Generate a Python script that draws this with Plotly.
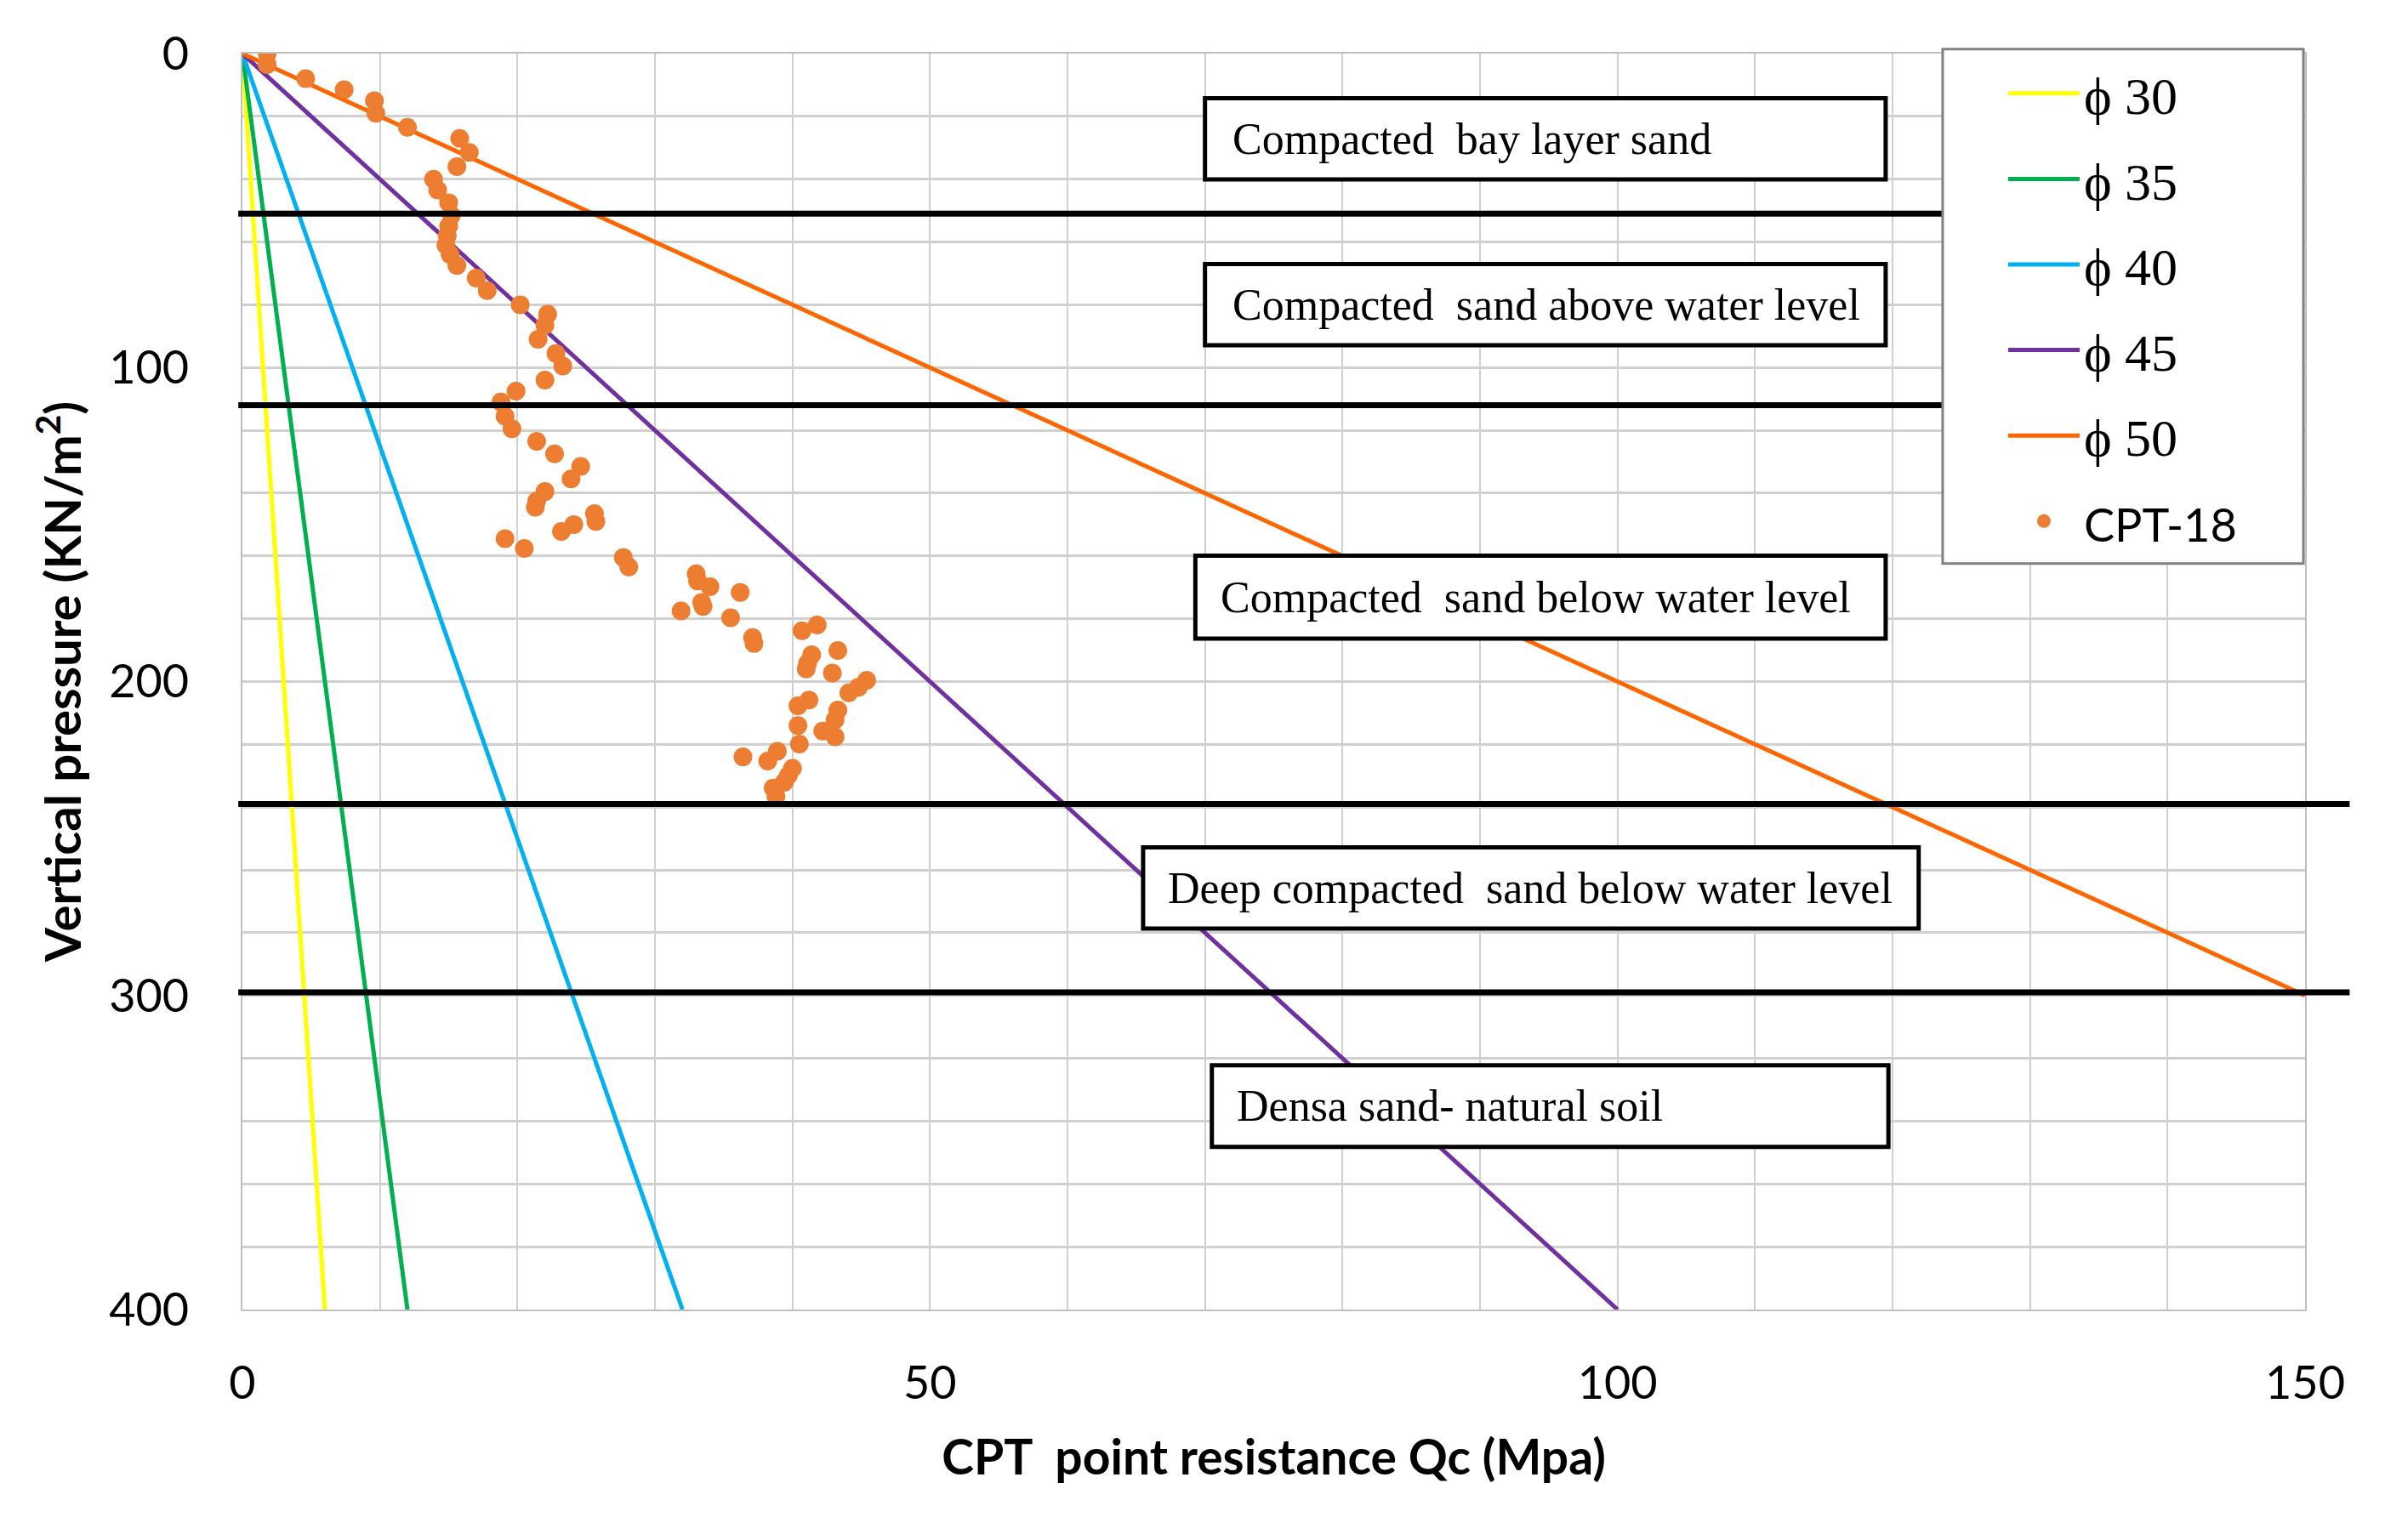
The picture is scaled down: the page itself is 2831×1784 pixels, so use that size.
import plotly.graph_objects as go

# ---- data ----
phi_names = ["ϕ 30", "ϕ 35", "ϕ 40", "ϕ 45", "ϕ 50"]
phi_colors = ["#FFFF00", "#00B050", "#00B0F0", "#7030A0", "#FF6600"]
phi_x = [[0, 6], [0, 12], [0, 32], [0, 100], [0, 150]]
phi_y = [[0, 400], [0, 400], [0, 400], [0, 400], [0, 300]]

cpt_x = [1.8, 1.8, 4.6, 7.4, 9.6, 9.7, 12.0, 15.8, 16.5, 15.6, 13.9, 14.2, 15.0, 15.2, 15.0,
         14.9, 14.8, 15.1, 15.6, 17.0, 17.8, 20.2, 22.2, 22.0, 21.5, 22.8, 23.3, 22.0, 19.9,
         18.8, 19.1, 19.6, 21.4, 22.7, 24.6, 23.9, 22.0, 21.4, 21.3, 25.6, 25.7, 24.1, 23.2,
         19.1, 20.5, 27.7, 28.1, 33.0, 33.1, 34.0, 36.2, 33.4, 33.5, 31.9, 35.5, 37.1, 37.2,
         40.7, 41.8, 41.4, 41.1, 41.0, 43.3, 42.9, 45.4, 44.8, 44.1, 43.3, 43.1, 42.2, 43.1,
         41.2, 40.4, 40.4, 40.5, 38.9, 38.2, 36.4, 40.0, 39.7, 39.4, 38.6, 38.8]
cpt_y = [0.0, 3.5, 8.0, 11.5, 15.0, 19.0, 23.5, 27.0, 31.5, 36.0, 40.0, 43.5, 47.5, 51.5, 55.0,
         58.0, 61.0, 64.0, 67.5, 71.5, 75.5, 80.0, 83.0, 86.5, 91.0, 95.5, 99.5, 104.0, 107.5,
         111.0, 115.5, 119.5, 123.5, 127.5, 131.5, 135.5, 139.5, 142.5, 144.5, 146.5, 149.0, 150.0, 152.2,
         154.5, 157.6, 160.5, 163.5, 165.7, 168.0, 169.8, 171.6, 174.8, 176.1, 177.5, 179.7, 186.0, 187.9,
         183.8, 182.0, 191.5, 194.2, 196.0, 190.1, 197.3, 199.6, 201.8, 203.6, 209.1, 212.2, 215.8, 217.6,
         205.9, 207.7, 214.0, 219.9, 222.2, 225.3, 224.0, 227.6, 229.9, 232.1, 233.9, 236.6]

layer_bounds = [51, 112, 239, 299]
layer_line_end = [0.826, 0.826, 1.0216, 1.0216]

box_labels = ["Compacted\u00a0 bay layer sand",
              "Compacted\u00a0 sand above water level",
              "Compacted\u00a0 sand below water level",
              "Deep compacted\u00a0 sand below water level",
              "Densa sand- natural soil"]
box_x0 = [70.0, 70.0, 69.3, 65.5, 70.5]
box_x1 = [119.5, 119.5, 119.5, 121.9, 119.7]
box_y0 = [14.2, 67.0, 159.9, 252.8, 322.2]
box_y1 = [40.1, 92.9, 186.3, 278.7, 348.2]
text_x = [71.9, 71.9, 71.0, 67.2, 72.2]

x_ticks = [0, 50, 100, 150]
y_ticks = [0, 100, 200, 300, 400]

# ---- figure ----
fig = go.Figure()
for i, name in enumerate(phi_names):
    fig.add_trace(go.Scatter(
        x=phi_x[i], y=phi_y[i], mode="lines", name=name, legendgroup=name,
        line=dict(color=phi_colors[i], width=5)))
fig.add_trace(go.Scatter(
    x=cpt_x, y=cpt_y, mode="markers", legendgroup="cpt",
    name='<span style="font-family:Lato;font-size:54px">CPT-18</span>',
    marker=dict(color="#ED7D31", size=22)))

shapes = []
for yb, xe in zip(layer_bounds, layer_line_end):
    shapes.append(dict(type="line", xref="paper", yref="y", x0=-0.002, x1=xe, y0=yb, y1=yb,
                       line=dict(color="black", width=7), layer="above"))
# legend frame
shapes.append(dict(type="rect", xref="paper", yref="paper", x0=0.8243, x1=0.9992, y0=0.594, y1=1.0035,
                   fillcolor="white", line=dict(color="#808080", width=3), layer="above"))
annotations = []
for lab, x0, x1, y0, y1, tx in zip(box_labels, box_x0, box_x1, box_y0, box_y1, text_x):
    shapes.append(dict(type="rect", xref="x", yref="y", x0=x0, x1=x1, y0=y0, y1=y1,
                       fillcolor="white", line=dict(color="black", width=5), layer="above"))
    annotations.append(dict(x=tx, y=(y0 + y1) / 2, xref="x", yref="y", text=lab,
                            showarrow=False, xanchor="left", yanchor="middle",
                            font=dict(family="Liberation Serif", size=52, color="black")))

fig.update_layout(
    width=2831, height=1784,
    margin=dict(l=285, r=121, t=63, b=244),
    paper_bgcolor="white", plot_bgcolor="white",
    font=dict(family="Lato", color="black"),
    shapes=shapes, annotations=annotations,
    legend=dict(x=0.854, y=1.0, xanchor="left", yanchor="top",
                bgcolor="rgba(0,0,0,0)", borderwidth=0,
                font=dict(family="Liberation Serif", size=62, color="black"),
                tracegroupgap=17, itemwidth=84),
    xaxis=dict(range=[0, 150], tickvals=x_ticks, showgrid=True, gridcolor="#D0D0D0", gridwidth=2,
               minor=dict(dtick=10, showgrid=True, gridcolor="#D0D0D0", gridwidth=2),
               showline=True, linecolor="#BFBFBF", linewidth=2, mirror=True, zeroline=False,
               ticks="", ticklabelstandoff=38, tickfont=dict(size=54, family="Lato"),
               title=dict(text="<b>CPT  point resistance Qc (Mpa)</b>", standoff=38,
                          font=dict(size=57, family="Lato"))),
    yaxis=dict(range=[400, 0], tickvals=y_ticks, showgrid=True, gridcolor="#D0D0D0", gridwidth=3,
               minor=dict(dtick=20, showgrid=True, gridcolor="#D0D0D0", gridwidth=3),
               showline=True, linecolor="#BFBFBF", linewidth=2, mirror=True, zeroline=False,
               ticks="", ticklabelstandoff=50, tickfont=dict(size=54, family="Lato"),
               title=dict(text="<b>Vertical pressure (KN/m<sup>2</sup>)</b>", standoff=14,
                          font=dict(size=58, family="Lato"))),
)

fig.write_html("out.html", config={"displayModeBar": False},
               post_script="document.body.style.margin='0';document.body.style.overflow='hidden';")
